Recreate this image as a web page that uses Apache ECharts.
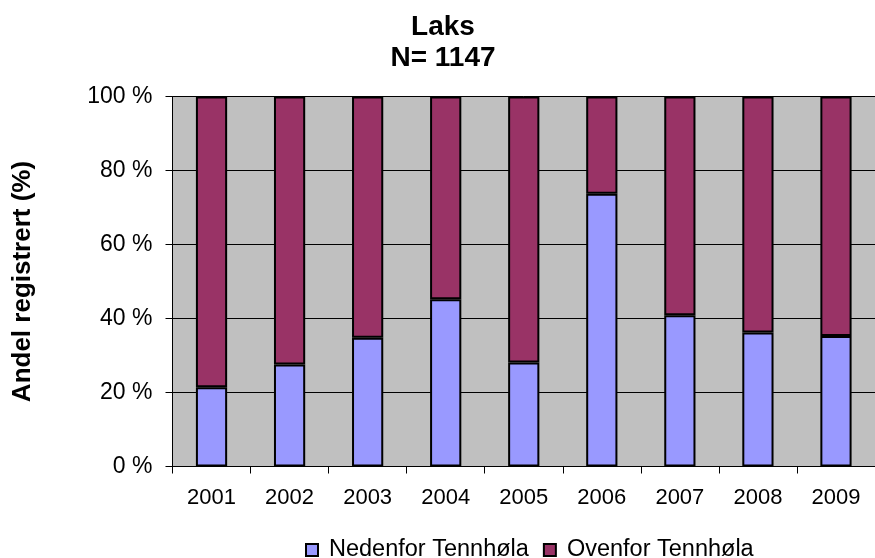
<!DOCTYPE html>
<html>
<head>
<meta charset="utf-8">
<script src="https://cdn.jsdelivr.net/npm/echarts@6/dist/echarts.min.js"></script>
<style>
  html, body { margin: 0; padding: 0; background: #fff; }
  #main { width: 875px; height: 558px; }
</style>
</head>
<body>
<div id="main"></div>
<script>
// laks, andel registrert per aar
var years = ['2001', '2002', '2003', '2004', '2005', '2006', '2007', '2008', '2009'];
var nedenfor = [21.4, 27.6, 34.8, 45.2, 28.1, 73.7, 40.9, 36.2, 35.3];
var ovenfor = [78.6, 72.4, 65.2, 54.8, 71.9, 26.3, 59.1, 63.8, 64.7];
var yTicks = [0, 20, 40, 60, 80, 100];

var font = "'Liberation Sans', Arial, sans-serif";
var chart = echarts.init(document.getElementById('main'));

var option = {
    animation: false,
    title: {
        text: 'Laks\nN= 1147',
        left: 443,
        top: 12,
        padding: 0,
        textAlign: 'center',
        textStyle: { fontFamily: font, fontSize: 28, fontWeight: 'bold', color: '#000', lineHeight: 31 }
    },
    legend: {
        data: ['Nedenfor Tennhøla', 'Ovenfor Tennhøla'],
        left: 300,
        top: 533,
        icon: 'rect',
        itemWidth: 12,
        itemHeight: 12,
        itemGap: 14,
        textStyle: { fontFamily: font, fontSize: 23.5, color: '#000', padding: [0, 0, 0, 6] }
    },
    grid: {
        left: 172.5,
        top: 96.5,
        bottom: 91.5,
        right: -10.5,
        show: true,
        backgroundColor: '#C0C0C0',
        borderWidth: 0
    },
    xAxis: {
        type: 'category',
        data: years,
        axisLine: { lineStyle: { color: '#000', width: 1 } },
        axisTick: { show: true, length: 7, lineStyle: { color: '#000' } },
        axisLabel: { fontFamily: font, fontSize: 22, color: '#000', margin: 20 }
    },
    yAxis: {
        type: 'value',
        min: yTicks[0],
        max: yTicks[yTicks.length - 1],
        interval: 20,
        name: 'Andel registrert (%)',
        nameLocation: 'middle',
        nameGap: 137,
        nameTextStyle: { fontFamily: font, fontSize: 26, fontWeight: 'bold', color: '#000' },
        axisLine: { show: true, lineStyle: { color: '#000', width: 1 } },
        axisTick: { show: true, length: 7, lineStyle: { color: '#000' } },
        axisLabel: { fontFamily: font, fontSize: 23, color: '#000', margin: 20, formatter: '{value} %' },
        splitLine: { show: true, lineStyle: { color: '#000', width: 1 } }
    },
    series: [
        {
            name: 'Nedenfor Tennhøla',
            type: 'bar',
            stack: 'total',
            barWidth: '40%',
            data: nedenfor,
            itemStyle: { color: '#9999FF', borderColor: '#000', borderWidth: 2 }
        },
        {
            name: 'Ovenfor Tennhøla',
            type: 'bar',
            stack: 'total',
            barWidth: '40%',
            data: ovenfor,
            itemStyle: { color: '#993366', borderColor: '#000', borderWidth: 2 }
        }
    ]
};

chart.setOption(option);
</script>
</body>
</html>
